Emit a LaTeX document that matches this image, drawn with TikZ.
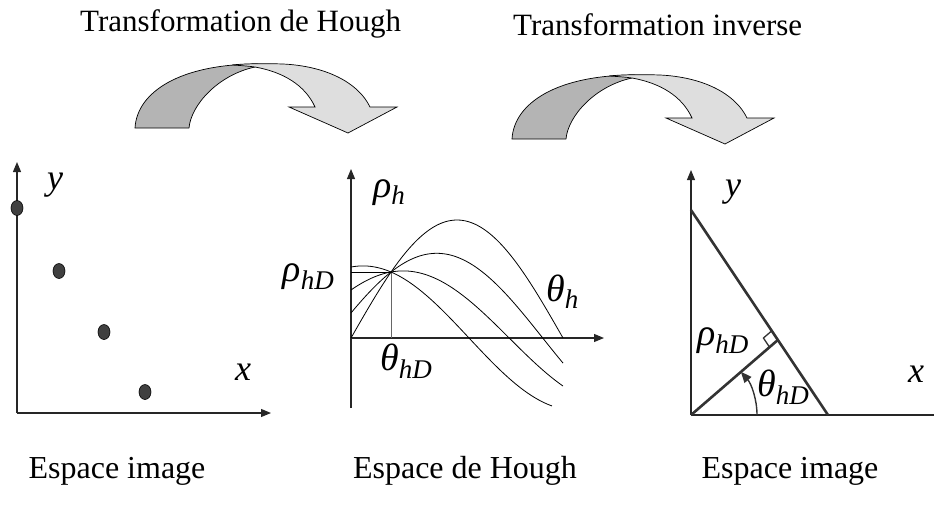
\documentclass[tikz,border=0pt]{standalone}
\usepackage{fontspec}
\setmainfont{Liberation Serif}
\usetikzlibrary{arrows.meta,calc}
\definecolor{darkrib}{HTML}{B4B4B4}
\definecolor{lightrib}{HTML}{DEDEDE}
\definecolor{dotfill}{HTML}{404040}
\definecolor{thickline}{HTML}{333333}
\newcommand{\txtfont}{\fontsize{31}{34}\selectfont}
\newcommand{\capfont}{\fontsize{32}{34}\selectfont}
\newcommand{\varlab}[1]{{\fontsize{36}{36}\selectfont\itshape #1}}
\newcommand{\greeklab}[3]{{\fontsize{38}{38}\selectfont\itshape #1\raisebox{-#3}{\fontsize{27}{27}\selectfont #2}}}
\begin{document}
\begin{tikzpicture}[x=1pt,y=-1pt,
  axis/.style={draw=black!85, line width=1.1pt, -{Triangle[length=10pt,width=8pt]}},
  curve/.style={draw=black, line width=0.8pt},
  ribbon/.style={draw=black, line width=0.7pt},
  ptdot/.style={draw=black, fill=dotfill, line width=0.6pt},
  heavy/.style={draw=thickline, line width=2.6pt},
  lab/.style={inner sep=0pt, anchor=base},
  title/.style={inner sep=0pt, anchor=base west, font=\txtfont},
  caption/.style={inner sep=0pt, anchor=base, font=\capfont}]
\useasboundingbox (0,0) rectangle (934,506);
\clip (0,0) rectangle (934,506);

% ---------- titles ----------
\node[title] (t1) at (80,31) {Transformation de Hough};
\node[title] (t2) at (513,35) {Transformation inverse};

% ---------- ribbon arrows ----------
\foreach \dx/\dy [count=\i] in {0/0, 377/11} {
  \begin{scope}[shift={(\dx,\dy)}]
    \fill[darkrib] (135,128) .. controls (137,92) and (180,64) .. (258,64)
      -- (255,67) .. controls (218,75) and (191,105) .. (189,128) -- cycle;
    \draw[ribbon] (189,128) -- (135,128) .. controls (137,92) and (180,64) .. (258,64);
    \draw[ribbon] (255,67) .. controls (218,75) and (191,105) .. (189,128);
    \filldraw[ribbon, fill=lightrib] (232,65) .. controls (245,63.5) and (268,63.5) .. (283,64)
      .. controls (325,66) and (358,82) .. (370,107) -- (397,107) -- (348,133) -- (289,107)
      -- (315,107) .. controls (305,85) and (283,72) .. (255,67)
      .. controls (248,66) and (240,65.5) .. (232,65) -- cycle;
  \end{scope}
}

% ---------- panel 1: image space ----------
\coordinate (o1) at (17,413);
\coordinate (y1) at (17,162);
\coordinate (x1) at (271,413);
\draw[axis] (o1) -- (y1);
\draw[axis] (o1) -- (x1);
\foreach \px/\py [count=\k] in {17/208, 59/271, 104/332, 145/392} {
  \path[ptdot] (\px,\py) ellipse [x radius=6, y radius=7.5];
  \coordinate (p\k) at (\px,\py);
}
\node[lab] (ylab1) at (55,189) {\varlab{y}};
\node[lab] (xlab1) at (243,380) {\varlab{x}};

% ---------- panel 2: Hough space ----------
\coordinate (o2) at (351,338);
\coordinate (yb2) at (351,408);
\coordinate (y2) at (351,169);
\coordinate (x2) at (604,338);
\draw[axis] (yb2) -- (y2);
\draw[axis] (o2) -- (x2);
\coordinate (m) at (391,272.1);
\draw[draw=black!60, line width=0.9pt] (m) -- (391,338);
\draw[curve] (351,272.1) -- (m);
\draw[curve] plot[domain=0:212,samples=90] ({351+\x},{338-118*cos(\x*0.8490566-90)});
\draw[curve] plot[domain=0:212,samples=90] ({351+\x},{338-84.7*cos(\x*0.8490566-72.8)});
\draw[curve] plot[domain=0:212,samples=90] ({351+\x},{338-67.1*cos(\x*0.8490566-44.3)});
\draw[curve] plot[domain=0:201,samples=90] ({351+\x},{338-72.1*cos(\x*0.8490566-10.2)});
\node[lab, anchor=base west] (rh) at (373,197) {\greeklab{ρ}{h}{7pt}};
\node[lab, anchor=base west] (th) at (546,301) {\greeklab{θ}{h}{7pt}};
\node[lab, anchor=base east] (rhd) at (334,281) {\greeklab{ρ}{hD}{8pt}};
\node[lab, anchor=base west] (thd) at (380,370) {\greeklab{θ}{hD}{8pt}};

% ---------- panel 3: image space (line) ----------
\coordinate (o3) at (691,415);
\coordinate (y3) at (691,170);
\coordinate (x3) at (944,415);
\draw[axis] (o3) -- (y3);
\draw[axis] (o3) -- (x3);
\coordinate (P1) at (691,210);
\coordinate (P2) at (828,415);
\draw[heavy] (P1) -- (P2);
\coordinate (F) at ($(P1)!0.634!(P2)$);
\draw[heavy] (o3) -- (F);
\coordinate (sqA) at ($(F)!11pt!(P1)$);
\coordinate (sqB) at ($(F)!11pt!(o3)$);
\draw[draw=thickline, line width=1.3pt] (sqA) -- ($(sqA)+(sqB)-(F)$) -- (sqB);
\draw[draw=thickline, line width=1.4pt, -{Triangle[length=11pt,width=9pt]}]
  (757,415) arc[start angle=0, end angle=-41, radius=66];
\node[lab] (ylab3) at (733,196) {\varlab{y}};
\node[lab] (xlab3) at (916,382) {\varlab{x}};
\node[lab, anchor=base west] (rhd3) at (697,345) {\greeklab{ρ}{hD}{8pt}};
\node[lab, anchor=base west] (thd3) at (757,396) {\greeklab{θ}{hD}{8pt}};

% ---------- captions ----------
\node[caption] (c1) at (117,478) {Espace image};
\node[caption] (c2) at (465,478) {Espace de Hough};
\node[caption] (c3) at (790,478) {Espace image};
\end{tikzpicture}
\end{document}
